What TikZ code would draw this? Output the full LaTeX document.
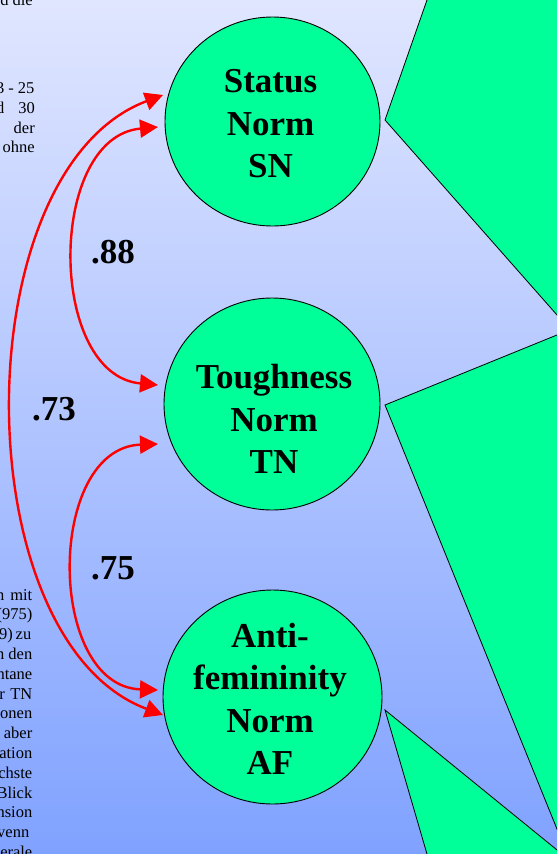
\documentclass[tikz,border=0pt]{standalone}
\usepackage{fontspec}
\setmainfont{Liberation Serif}
\usetikzlibrary{arrows.meta,shapes.geometric,calc}
\definecolor{nodegreen}{RGB}{0,255,153}
\definecolor{bgtop}{RGB}{224,230,255}
\definecolor{bgbot}{RGB}{128,162,255}
\definecolor{arrred}{RGB}{255,0,0}
\begin{document}
\begin{tikzpicture}[x=1pt,y=-1pt,
  normcircle/.style={ellipse, draw=black, line width=0.9pt, fill=nodegreen, inner sep=0pt},
  normtext/.style={font=\fontsize{35}{42.5}\selectfont\bfseries, align=center, inner sep=0pt},
  corrlabel/.style={font=\fontsize{35}{42}\selectfont\bfseries, inner sep=0pt},
  corr/.style={draw=arrred, line width=2.4pt, {Triangle[length=18pt,width=18pt]}-{Triangle[length=18pt,width=18pt]}},
  frag/.style={font=\fontsize{16.5}{19.8}\selectfont, inner sep=0pt, anchor=base east},
  shard/.style={fill=nodegreen, draw=black, line width=0.8pt, line join=miter}
]
\useasboundingbox (0,0) rectangle (557,854);
\clip (0,0) rectangle (557,854);
\shade[top color=bgtop, bottom color=bgbot] (0,0) rectangle (557,854);

% green shards at the right
\path[shard] (430.5,-10) -- (385,120) -- (567,326.3) -- (567,-10) -- cycle;
\path[shard] (567,330.9) -- (385,405) -- (567,853.7) -- cycle;
\path[shard] (385,710) -- (429.9,864) -- (567,864) -- (567,858.1) -- cycle;

% text fragments (left margin)
\node[frag] (t1) at (33,5.5) {d die};
\node[frag] (t2) at (34.7,93) {3 - 25};
\node[frag] (t3a) at (4.5,113) {d};
\node[frag] (t3b) at (35,113) {30};
\node[frag] (t4) at (35,133) {der};
\node[frag] (t5) at (35,152.5) {ohne};

\node[frag] (b1a) at (4.5,600) {n};
\node[frag] (b1b) at (32.5,600) {mit};
\node[frag] (b2) at (32.5,619.8) {(975)};
\node[frag] (b3a) at (13,639.6) {9)};
\node[frag] (b3b) at (31.5,639.6) {zu};
\node[frag] (b4) at (32.5,659.4) {n den};
\node[frag] (b5) at (32.5,679.2) {ntane};
\node[frag] (b6a) at (5,699) {r};
\node[frag] (b6b) at (32.5,699) {TN};
\node[frag] (b7) at (32.5,718.8) {onen};
\node[frag] (b8) at (32.5,738.6) {aber};
\node[frag] (b9) at (32.5,758.4) {ation};
\node[frag] (b10) at (32.5,778.2) {chste};
\node[frag] (b11) at (32.5,798) {Blick};
\node[frag] (b12) at (32.5,817.8) {nsion};
\node[frag] (b13) at (29.5,837.6) {venn};
\node[frag] (b14) at (32.5,857.4) {berale};

% norm circles
\node[normcircle, minimum width=215pt, minimum height=209pt] (sn) at (272.5,121.5) {};
\node[normcircle, minimum width=216pt, minimum height=212pt] (tn) at (272,404) {};
\node[normcircle, minimum width=219pt, minimum height=214pt] (af) at (272.5,697) {};

\node[normtext] (snlabel) at (270.5,124) {Status\\Norm\\SN};
\node[normtext] (tnlabel) at (274,419) {Toughness\\Norm\\TN};
\node[normtext] (aflabel) at (270,699) {Anti-\\femininity\\Norm\\AF};

% arrow tip coordinates next to the circles
\coordinate (snA) at ($(sn.center)+(-109.5,-26.5)$);
\coordinate (snB) at ($(sn.center)+(-114.5,5.5)$);
\coordinate (tnA) at ($(tn.center)+(-114,-19)$);
\coordinate (tnB) at ($(tn.center)+(-114,40)$);
\coordinate (afA) at ($(af.center)+(-114.5,-7)$);
\coordinate (afB) at ($(af.center)+(-109.5,18)$);

% correlations
\draw[corr] (snB) .. controls +(-111,10) and +(-111,-10) .. (tnA);
\draw[corr] (tnB) .. controls +(-112,4) and +(-112,-4) .. (afA);
\draw[corr] (snA) .. controls +(-200,75) and +(-200,-75) .. (afB);

\node[corrlabel] (r88) at (113,252) {.88};
\node[corrlabel] (r73) at (54,409.5) {.73};
\node[corrlabel] (r75) at (113,568) {.75};
\end{tikzpicture}
\end{document}
